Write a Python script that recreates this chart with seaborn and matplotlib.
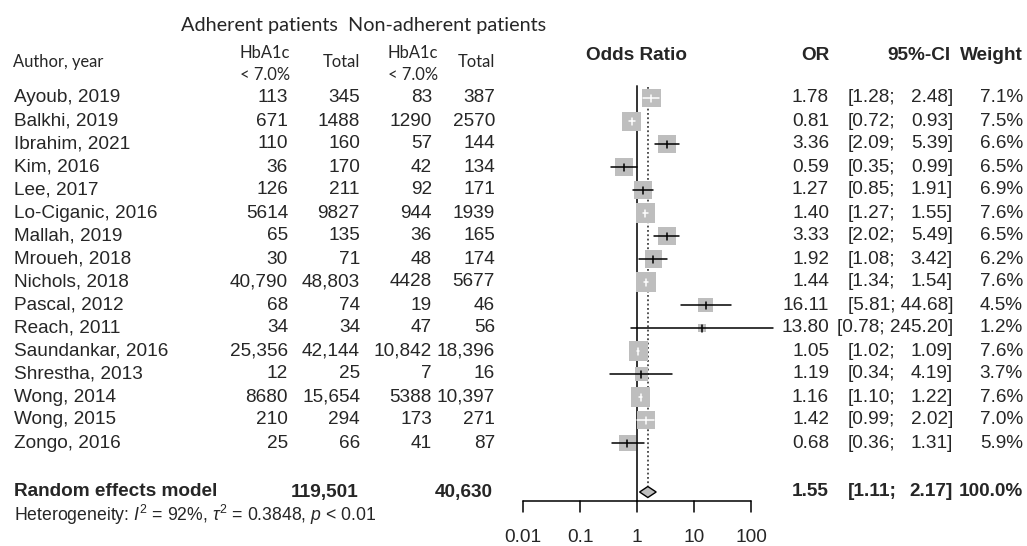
import numpy as np
import pandas as pd
import matplotlib
matplotlib.use("Agg")
import matplotlib.pyplot as plt
import seaborn as sns

# ---------------- data ----------------
studies = ["Ayoub, 2019", "Balkhi, 2019", "Ibrahim, 2021", "Kim, 2016", "Lee, 2017",
           "Lo-Ciganic, 2016", "Mallah, 2019", "Mroueh, 2018", "Nichols, 2018",
           "Pascal, 2012", "Reach, 2011", "Saundankar, 2016", "Shrestha, 2013",
           "Wong, 2014", "Wong, 2015", "Zongo, 2016"]
adh_events = [113, 671, 110, 36, 126, 5614, 65, 30, 40790, 68, 34, 25356, 12, 8680, 210, 25]
adh_total = [345, 1488, 160, 170, 211, 9827, 135, 71, 48803, 74, 34, 42144, 25, 15654, 294, 66]
non_events = [83, 1290, 57, 42, 92, 944, 36, 48, 4428, 19, 47, 10842, 7, 5388, 173, 41]
non_total = [387, 2570, 144, 134, 171, 1939, 165, 174, 5677, 46, 56, 18396, 16, 10397, 271, 87]
odds_ratio = [1.78, 0.81, 3.36, 0.59, 1.27, 1.40, 3.33, 1.92, 1.44, 16.11, 13.80, 1.05, 1.19, 1.16, 1.42, 0.68]
ci_low = [1.28, 0.72, 2.09, 0.35, 0.85, 1.27, 2.02, 1.08, 1.34, 5.81, 0.78, 1.02, 0.34, 1.10, 0.99, 0.36]
ci_high = [2.48, 0.93, 5.39, 0.99, 1.91, 1.55, 5.49, 3.42, 1.54, 44.68, 245.20, 1.09, 4.19, 1.22, 2.02, 1.31]
weights = [7.1, 7.5, 6.6, 6.5, 6.9, 7.6, 6.5, 6.2, 7.6, 4.5, 1.2, 7.6, 3.7, 7.6, 7.0, 5.9]

pooled_label = "Random effects model"
pooled_adh_total = 119501
pooled_non_total = 40630
pooled_or = 1.55
pooled_low = 1.11
pooled_high = 2.17
pooled_weight = 100.0
heterogeneity = r"Heterogeneity: $I^2$ = 92%, $\tau^2$ = 0.3848, $p$ < 0.01"
axis_ticks = [0.01, 0.1, 1, 10, 100]
axis_ticklabels = ["0.01", "0.1", "1", "10", "100"]

# ---------------- style ----------------
sns.set_theme(style="white")
plt.rcParams["font.family"] = ["Liberation Sans", "DejaVu Sans"]
plt.rcParams["mathtext.fontset"] = "custom"
plt.rcParams["mathtext.rm"] = "Liberation Sans"
plt.rcParams["mathtext.it"] = "Liberation Sans:italic"
plt.rcParams["mathtext.sf"] = "Liberation Sans"

W, H = 1027, 546
FS = 13.7
HFS = 14.3
SFS = 11.9
HEAD_FONT = ["Lato", "DejaVu Sans"]
GREY = "#BEBEBE"

fig = plt.figure(figsize=(W / 100, H / 100), dpi=100)
bg = fig.add_axes([0, 0, 1, 1])
bg.set_xlim(0, W)
bg.set_ylim(H, 0)
bg.axis("off")

# forest axes (log scale, same vertical pixel mapping)
fx0, fx1 = 500, 775
px_dec = 57.0
x_one = 637.0
fa = fig.add_axes([fx0 / W, 0, (fx1 - fx0) / W, 1])
fa.patch.set_alpha(0)

row0, dy = 98.0, 23.0
rows_y = [row0 + dy * i for i in range(len(studies))]
pool_y = 492.0


def fmt(v):
    return f"{v:,}" if v >= 10000 else str(v)


def ci_text(y, lo, hi, **kw):
    hs = f"{hi:.2f}]"
    if len(hs) > 5:
        bg.text(953, y, f"[{lo:.2f}; {hs}", ha="right", va="center", fontsize=FS, **kw)
    else:
        bg.text(848, y, f"[{lo:.2f};", ha="left", va="center", fontsize=FS, **kw)
        bg.text(953, y, hs, ha="right", va="center", fontsize=FS, **kw)


# headers
bg.text(259.5, 25, "Adherent patients", ha="center", va="center", fontsize=HFS, family=HEAD_FONT)
bg.text(447, 25, "Non-adherent patients", ha="center", va="center", fontsize=HFS, family=HEAD_FONT)
bg.text(13, 62, "Author, year", ha="left", va="center", fontsize=SFS, family=HEAD_FONT)
for cx in (265, 413):
    bg.text(cx, 53, "HbA1c", ha="center", va="center", fontsize=SFS, family=HEAD_FONT)
    bg.text(cx, 75, "< 7.0%", ha="center", va="center", fontsize=SFS, family=HEAD_FONT)
bg.text(341, 62, "Total", ha="center", va="center", fontsize=SFS, family=HEAD_FONT)
bg.text(476, 62, "Total", ha="center", va="center", fontsize=SFS, family=HEAD_FONT)
bg.text(637, 55, "Odds Ratio", ha="center", va="center", fontsize=FS, fontweight="bold")
bg.text(829, 55, "OR", ha="right", va="center", fontsize=FS, fontweight="bold")
bg.text(951, 55, "95%-CI", ha="right", va="center", fontsize=FS, fontweight="bold")
bg.text(1023, 55, "Weight", ha="right", va="center", fontsize=FS, fontweight="bold")

# study rows text
for i, y in enumerate(rows_y):
    bg.text(14, y, studies[i], ha="left", va="center", fontsize=FS)
    bg.text(288, y, fmt(adh_events[i]), ha="right", va="center", fontsize=FS)
    bg.text(360, y, fmt(adh_total[i]), ha="right", va="center", fontsize=FS)
    bg.text(432, y, fmt(non_events[i]), ha="right", va="center", fontsize=FS)
    bg.text(495, y, fmt(non_total[i]), ha="right", va="center", fontsize=FS)
    bg.text(829, y, f"{odds_ratio[i]:.2f}", ha="right", va="center", fontsize=FS)
    ci_text(y, ci_low[i], ci_high[i])
    bg.text(1023, y, f"{weights[i]:.1f}%", ha="right", va="center", fontsize=FS)

# pooled row text
bg.text(14, pool_y, pooled_label, ha="left", va="center", fontsize=FS, fontweight="bold")
bg.text(358, pool_y, fmt(pooled_adh_total), ha="right", va="center", fontsize=FS, fontweight="bold")
bg.text(493, pool_y, fmt(pooled_non_total), ha="right", va="center", fontsize=FS, fontweight="bold")
bg.text(829, pool_y, f"{pooled_or:.2f}", ha="right", va="center", fontsize=FS, fontweight="bold")
ci_text(pool_y, pooled_low, pooled_high, fontweight="bold")
bg.text(1023, pool_y, f"{pooled_weight:.1f}%", ha="right", va="center", fontsize=FS, fontweight="bold")
bg.text(14, 515, heterogeneity, ha="left", va="center", fontsize=12.7)

# reference lines
fa.plot([1, 1], [86, 501], color="#333333", lw=1.4, zorder=1)
fa.plot([pooled_or, pooled_or], [87, pool_y - 6], color="#444444", lw=1.3,
        linestyle=(0, (1, 1.4)), zorder=1)

# squares via seaborn
df = pd.DataFrame({"OR": odds_ratio, "y": rows_y, "w": weights})
side_ref = 19.0  # px side for weight 7.5
s_per_w = (side_ref * 0.72) ** 2 / 7.5
wmax = max(weights)
sns.scatterplot(data=df, x="OR", y="y", size="w", sizes=(0, s_per_w * wmax),
                size_norm=(0, wmax), marker="s", color=GREY, linewidth=0,
                legend=False, ax=fa, zorder=2)
fa.set_xscale("log")
fa.set_xlim(10 ** ((fx0 - x_one) / px_dec), 10 ** ((fx1 - x_one) / px_dec))
fa.set_ylim(H, 0)
fa.axis("off")

# CI lines and point ticks
for i, y in enumerate(rows_y):
    half = (side_ref / 2) * np.sqrt(weights[i] / 7.5) / px_dec
    lo, hi, c = np.log10(ci_low[i]), np.log10(ci_high[i]), np.log10(odds_ratio[i])
    inside = (c - lo) <= half and (hi - c) <= half
    col = "white" if inside else "black"
    fa.plot([ci_low[i], ci_high[i]], [y, y], color=col, lw=1.1, zorder=3, clip_on=False)
    fa.plot([odds_ratio[i], odds_ratio[i]], [y - 3.5, y + 3.5], color=col, lw=1.1, zorder=3)

# diamond
dx = [pooled_low, pooled_or, pooled_high, pooled_or, pooled_low]
dyv = [pool_y, pool_y - 5.5, pool_y, pool_y + 5.5, pool_y]
fa.fill(dx, dyv, facecolor=GREY, edgecolor="black", lw=1.0, zorder=3)

# x axis
fa.plot([axis_ticks[0], axis_ticks[-1]], [501, 501], color="black", lw=1.1, clip_on=False)
for t, lab in zip(axis_ticks, axis_ticklabels):
    fa.plot([t, t], [501, 512], color="black", lw=1.1, clip_on=False)
    fa.text(t, 538, lab, ha="center", va="center", fontsize=FS)

fig.savefig("out.png", dpi=100)
